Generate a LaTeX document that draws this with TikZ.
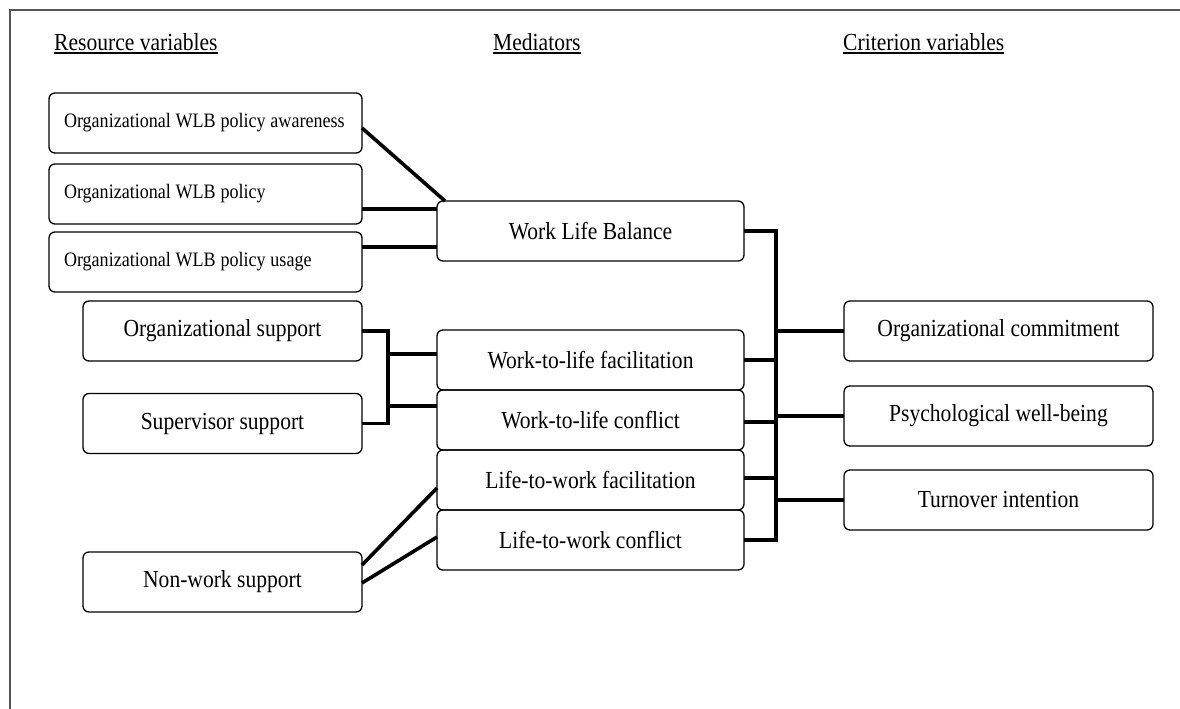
\documentclass[tikz,border=0pt]{standalone}
\usepackage{fontspec}
\setmainfont{Liberation Serif}[FakeStretch=0.88]
\usepackage{tikz}

\newcommand{\headline}[1]{\setbox0\hbox{#1}\rlap{\rule[-3pt]{\wd0}{1.8pt}}\box0}

\begin{document}
\begin{tikzpicture}[x=1pt,y=-1pt]

			\tikzstyle{big text}=[font=\fontsize{24.5}{28}\selectfont]
			\tikzstyle{small text}=[font=\fontsize{20.5}{24}\selectfont]
			\tikzstyle{var box}=[draw, black, line width=1.3pt, rounded corners=6pt, minimum height=60pt, inner sep=0pt, outer sep=0pt, big text]
			\tikzstyle{wlb box}=[var box, small text, minimum width=313pt, text width=299pt, align=left, execute at begin node={\spaceskip=4.8pt plus 1pt\relax\hspace*{8pt}}]
			\tikzstyle{link}=[black, line width=3.6pt]
			\tikzstyle{frame line}=[black!67, line width=2pt]
			\tikzstyle{heading}=[anchor=base west, inner sep=0pt, big text]

		\useasboundingbox (0,0) rectangle (1180,709);

		%frame
		\draw [frame line] (10,709) -- (10,10) -- (1180,10);

		%headings
		\node [heading] (hres) at (54,51) {\headline{Resource variables}};
		\node [heading] (hmed) at (493,51) {\headline{Mediators}};
		\node [heading] (hcrit) at (843,51) {\headline{Criterion variables}};

		%resource variables
		\node [wlb box] (aware) at (205.5,123) {Organizational WLB policy awareness};
		\node [wlb box] (policy) at (205.5,194) {Organizational WLB policy};
		\node [wlb box] (usage) at (205.5,262) {Organizational WLB policy usage};
		\node [var box, minimum width=279pt] (orgsup) at (222.5,331) {Organizational support};
		\node [var box, minimum width=279pt] (supsup) at (222.5,423.5) {Supervisor support};
		\node [var box, minimum width=279pt] (nonwork) at (222.5,582) {Non-work support};

		%mediators
		\node [var box, minimum width=307pt] (wlb) at (590.5,231) {Work Life Balance};
		\node [var box, minimum width=307pt] (wlf) at (590.5,360) {Work-to-life facilitation};
		\node [var box, minimum width=307pt] (wlc) at (590.5,420) {Work-to-life conflict};
		\node [var box, minimum width=307pt] (lwf) at (590.5,480) {Life-to-work facilitation};
		\node [var box, minimum width=307pt] (lwc) at (590.5,540) {Life-to-work conflict};

		%criterion variables
		\node [var box, minimum width=309pt] (commit) at (998.5,331) {Organizational commitment};
		\node [var box, minimum width=309pt] (psych) at (998.5,416) {Psychological well-being};
		\node [var box, minimum width=309pt] (turn) at (998.5,500) {Turnover intention};

		%wlb policy links
		\draw [link] ([yshift=-5pt]aware.east) -- ([xshift=8pt]wlb.north west);
		\draw [link] ([yshift=-15pt]policy.east) -- ([yshift=-15pt]policy.east -| wlb.west);
		\draw [link] ([yshift=15pt]usage.east) -- ([yshift=15pt]usage.east -| wlb.west);

		%work support bracket
		\draw [link] (orgsup.east) -- ++(26,0) coordinate (sb) |- (supsup.east);
		\draw [link] ([yshift=6pt]wlf.west -| sb) -- ([yshift=6pt]wlf.west);
		\draw [link] ([yshift=14pt]wlc.west -| sb) -- ([yshift=14pt]wlc.west);

		%non-work links
		\draw [link] ([yshift=17pt]nonwork.east) -- ([yshift=-8pt]lwf.west);
		\draw [link] ([yshift=-1pt]nonwork.east) -- ([yshift=3pt]lwc.west);

		%outcome bus
		\draw [link] (wlb.east) -- ++(32,0) coordinate (rb) |- (lwc.east);
		\draw [link] (wlf.east) -- (wlf.east -| rb);
		\draw [link] ([yshift=-2pt]wlc.east) -- ([yshift=-2pt]wlc.east -| rb);
		\draw [link] ([yshift=2pt]lwf.east) -- ([yshift=2pt]lwf.east -| rb);
		\draw [link] (rb |- commit.west) -- (commit.west);
		\draw [link] (rb |- psych.west) -- (psych.west);
		\draw [link] (rb |- turn.west) -- (turn.west);

		\end{tikzpicture}
\end{document}
